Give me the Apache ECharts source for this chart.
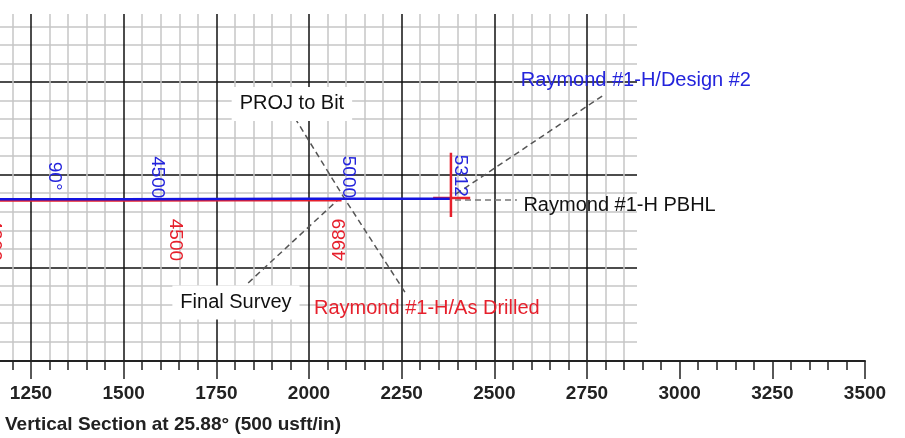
<!DOCTYPE html>
<html><head><meta charset="utf-8">
<script src="https://cdn.jsdelivr.net/npm/echarts@6/dist/echarts.min.js"></script>
<style>html,body{margin:0;padding:0;background:#fff}#c{width:905px;height:438px}</style>
</head><body><div id="c"></div>
<script>
// ---- data (vertical section, usft) ----
const designLine = [[1100, 9066], [1500, 9066], [2000, 9065], [2383, 9065]];
const drilledLine = [[1100, 9069], [1500, 9069], [1800, 9068], [2088, 9068]];
const pbhlCrossV = [[2383, 8941], [2383, 9114]];
const pbhlCrossH = [[2335, 9063], [2435, 9063]];

const designMDText = ['90°', '4500', '5000', '5312'];
const designMDX = [1313, 1591, 2106, 2407];
const designMDY = [9004, 9007, 9006, 9003];

const drilledMDText = ['4000', '4500'];
const drilledMDX = [1150, 1640];
const drilledMDY = [9176, 9176];

const finalMDText = ['4989'];
const finalMDX = [2084];
const finalMDY = [9176];

const leaderProj = [[1962, 8847], [2097, 9066], [2259, 9317]];
const leaderFinal = [[1836, 9292], [2078, 9068]];
const leaderDesign = [[2791, 8788], [2397, 9052]];
const leaderPBHL = [[2394, 9068], [2561, 9068]];

const noteText = ['PROJ to Bit', 'Final Survey', 'Raymond #1-H/As Drilled', 'Raymond #1-H/Design #2', 'Raymond #1-H PBHL'];
const noteX = [1954, 1803, 2318, 2882, 2838];
const noteY = [8809, 9345, 9360, 8747, 9082];

const axisTitle = 'Vertical Section at 25.88° (500 usft/in)';

// ---- styling ----
const FONT = 'Liberation Sans, Arial, sans-serif';
const BLUE = '#2424dc';
const RED = '#e6202c';
const GRAY = '#c6c6c6';
const BLACK = '#111';
const noteColor = [BLACK, BLACK, RED, BLUE, BLACK];
const noteBg = [true, true, false, false, false];

const zip = (xs, ys, ts) => xs.map((x, i) => ({ value: [x, ys[i]], name: ts[i] }));

function lineSeries(data, color, width, z, dashed) {
  return {
    type: 'line', xAxisIndex: 1, yAxisIndex: 1, data: data, symbol: 'none', silent: true,
    z: z, animation: false,
    lineStyle: { color: color, width: width, type: dashed ? [6, 4] : 'solid', opacity: 1 }
  };
}
function labelSeries(items, color, rotate, extra) {
  return {
    type: 'scatter', xAxisIndex: 1, yAxisIndex: 1, data: items, symbolSize: 1, silent: true,
    z: 10, animation: false, clip: false,
    itemStyle: { color: 'rgba(0,0,0,0)', opacity: 1 },
    label: Object.assign({
      show: true, formatter: '{b}', position: 'inside', rotate: rotate, opacity: 1,
      color: color, fontSize: 19, fontFamily: FONT, align: 'center', verticalAlign: 'middle',
      textBorderWidth: 0
    }, extra || {})
  };
}

const series = [
  lineSeries(leaderProj, '#555', 1.5, 2, true),
  lineSeries(leaderFinal, '#555', 1.5, 2, true),
  lineSeries(leaderDesign, '#555', 1.5, 2, true),
  lineSeries(leaderPBHL, '#777', 1.5, 2, true),
  lineSeries(pbhlCrossH, RED, 2.5, 3, false),
  lineSeries(drilledLine, RED, 3, 3, false),
  lineSeries(designLine, '#1414e0', 2.5, 4, false),
  lineSeries(pbhlCrossV, RED, 2.5, 5, false),
  labelSeries(zip(designMDX, designMDY, designMDText), BLUE, -90),
  labelSeries(zip(drilledMDX, drilledMDY, drilledMDText), RED, -90),
  labelSeries(zip(finalMDX, finalMDY, finalMDText), RED, 90)
];
noteText.forEach((t, i) => {
  series.push(labelSeries([{ value: [noteX[i], noteY[i]], name: t }], noteColor[i], 0,
    Object.assign({ fontSize: 20 }, noteBg[i] ? { backgroundColor: '#fff', padding: [7, 8] } : {})));
});

const chart = echarts.init(document.getElementById('c'), null, { renderer: 'canvas' });
chart.setOption({
  animation: false,
  backgroundColor: '#fff',
  title: {
    text: axisTitle, left: 5, top: 415, padding: 0,
    textStyle: { fontFamily: FONT, fontSize: 19, fontWeight: 'bold', color: '#222' }
  },
  grid: [
    { left: -61.7, right: 280.9, top: 14, bottom: 77, outerBoundsMode: 'none', containLabel: false },
    { left: -61.7, right: 268, top: 26.4, bottom: 96.5, outerBoundsMode: 'none', containLabel: false },
    { left: -61.7, right: 40, top: 300, bottom: 77, outerBoundsMode: 'none', containLabel: false }
  ],
  xAxis: [
    {
      gridIndex: 0, type: 'value', min: 1000, max: 2850, interval: 50,
      axisLine: { show: false }, axisTick: { show: false }, axisLabel: { show: false },
      splitLine: { show: true, lineStyle: { width: 1.5, color: [BLACK, GRAY, GRAY, GRAY, GRAY] } }
    },
    { gridIndex: 1, type: 'value', min: 1000, max: 2885, show: false },
    {
      gridIndex: 2, type: 'value', min: 1000, max: 3500, interval: 250, position: 'bottom',
      axisLine: { show: true, onZero: false, lineStyle: { color: '#222', width: 2 } },
      axisTick: { show: true, length: 18, lineStyle: { color: '#222', width: 1.5 } },
      minorTick: { show: true, splitNumber: 5, length: 9, lineStyle: { color: '#222', width: 1.5 } },
      axisLabel: { show: true, margin: 23, color: '#222', fontSize: 19, fontWeight: 'bold', fontFamily: FONT,
        formatter: v => String(v) },
      splitLine: { show: false }
    }
  ],
  yAxis: [
    { gridIndex: 0, type: 'value', min: 0, max: 1, show: false },
    {
      gridIndex: 1, type: 'value', min: 8600, max: 9450, interval: 50, inverse: true,
      axisLine: { show: false }, axisTick: { show: false }, axisLabel: { show: false },
      splitLine: { show: true, lineStyle: { width: 1.5, color: [GRAY, GRAY, GRAY, BLACK, GRAY] } }
    },
    { gridIndex: 2, type: 'value', min: 0, max: 1, show: false }
  ],
  series: series
});
</script>
</body></html>
